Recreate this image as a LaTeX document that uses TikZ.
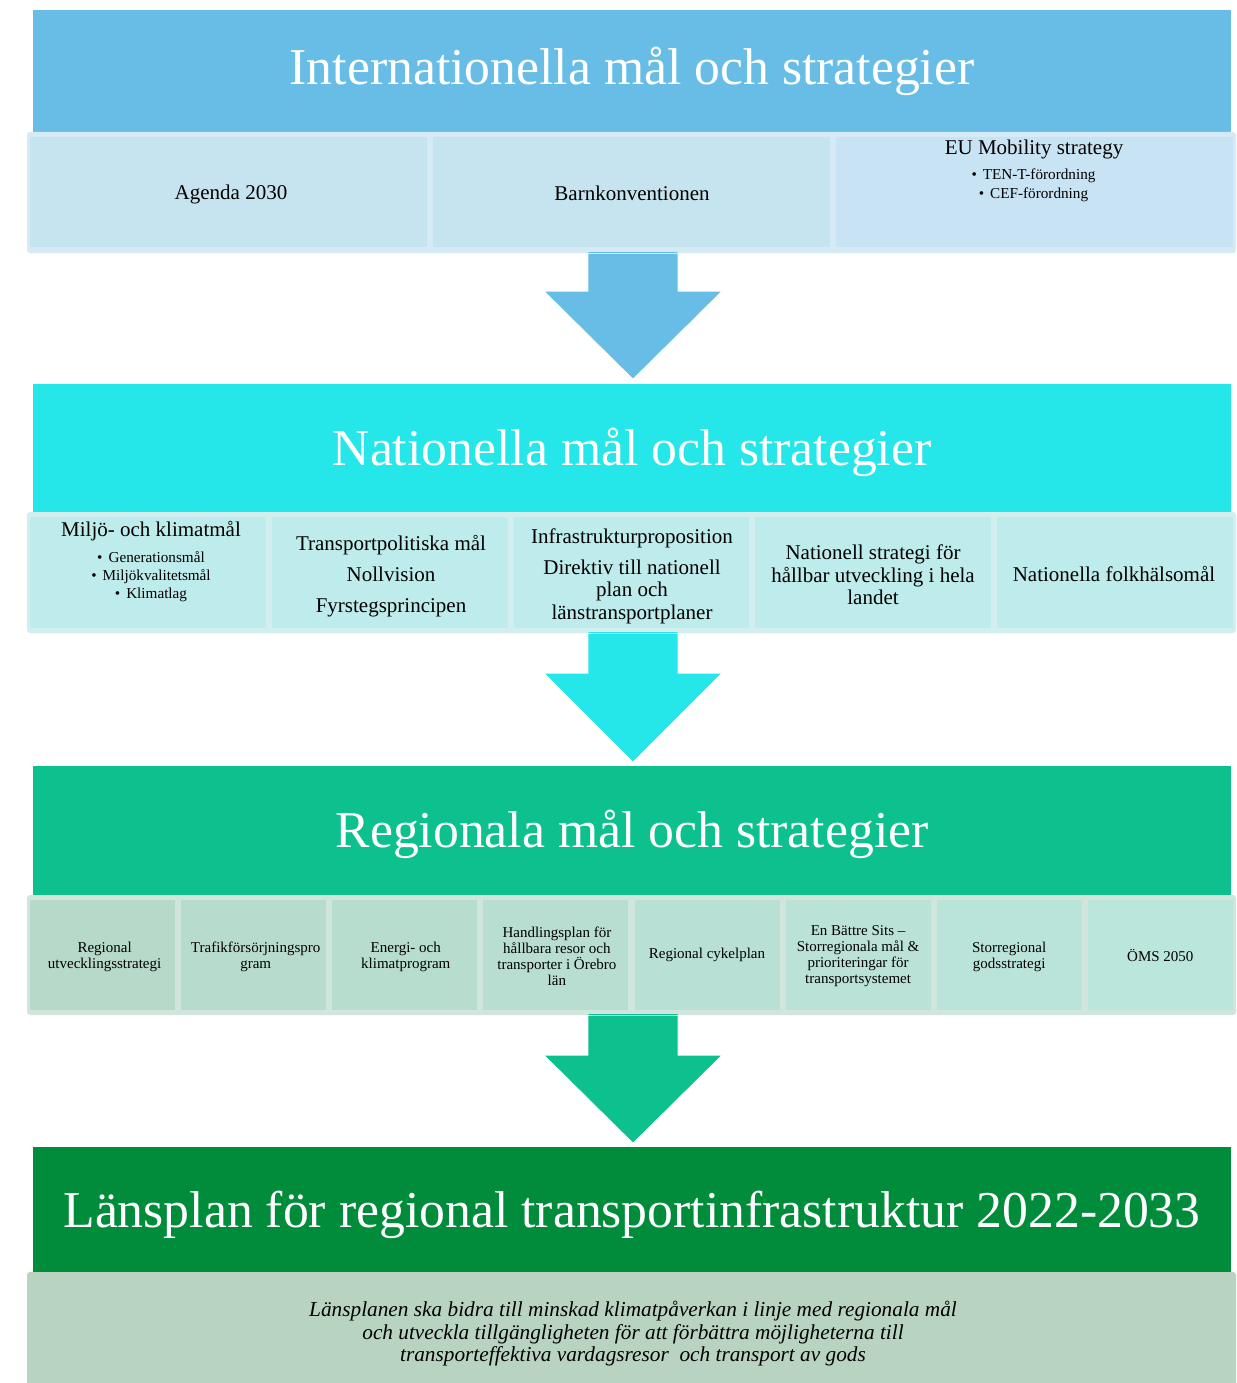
\documentclass[tikz,border=0pt]{standalone}
\usepackage{fontspec}
\setmainfont{Liberation Serif}
\usetikzlibrary{calc}
\definecolor{cOneBand}{HTML}{67BDE6}
\definecolor{cOneBox}{HTML}{C6E4F0}
\definecolor{cOneBoxB}{HTML}{C8E3F4}
\definecolor{cOnePan}{HTML}{D5EAF4}
\definecolor{cTwoBand}{HTML}{25E6E8}
\definecolor{cTwoBox}{HTML}{BEEBEB}
\definecolor{cTwoPan}{HTML}{D3EEEE}
\definecolor{cThrBand}{HTML}{0CC18D}
\definecolor{cThrL}{HTML}{B6D9C9}
\definecolor{cThrR}{HTML}{BBE6DC}
\definecolor{cThrPan}{HTML}{D0E6DD}
\definecolor{cFouBand}{HTML}{008C3A}
\definecolor{cFouPan}{HTML}{B8D4C1}
\newcommand{\blt}{•\hspace{6pt}}
\tikzset{
  band/.style={rectangle, inner sep=0pt, minimum width=1198pt},
  bandtext/.style={inner sep=0pt, text=white, font=\fontsize{51.7}{56}\selectfont},
  panel/.style={rectangle, rounded corners=3pt, inner sep=0pt, minimum width=1209pt},
  boxone/.style={rectangle, inner sep=0pt, minimum width=397pt, minimum height=110pt, fill=cOneBox},
  boxtwo/.style={rectangle, inner sep=0pt, minimum width=235.8pt, minimum height=111pt, fill=cTwoBox},
  boxthr/.style={rectangle, inner sep=0pt, minimum width=145pt, minimum height=110pt},
  txt/.style={inner sep=0pt, align=center},
  midtxt/.style={txt, font=\fontsize{21}{22.5}\selectfont},
  smalltxt/.style={txt, font=\fontsize{15.2}{18}\selectfont},
  thrtxt/.style={txt, font=\fontsize{15}{16}\selectfont},
  bigarrow/.style={draw=white, line width=0.8pt, line join=round},
}
\begin{document}
\begin{tikzpicture}[x=1pt,y=-1pt]
\useasboundingbox (0,0) rectangle (1236,1383);
\fill[white] (0,0) rectangle (1236,1383);

% ---------- Level 1 ----------
\node[band, fill=cOneBand, minimum height=122pt] (b1) at (632,71) {};
\node[bandtext] (b1t) at (632,71) {Internationella mål och strategier};
\node[panel, fill=cOnePan, minimum height=121pt] (p1) at (631.5,192.5) {};
\node[boxone] (a1) at (228.5,192) {};
\node[boxone] (a2) at (631.5,192) {};
\node[boxone, fill=cOneBoxB] (a3) at (1034.5,192) {};
\node[midtxt] (a1t) at (231,194) {Agenda 2030};
\node[midtxt] (a2t) at (632,193) {Barnkonventionen};
\node[midtxt, anchor=base] (a3t) at (1034,155) {EU Mobility strategy};
\node[smalltxt, anchor=base] (a3b) at (1033.5,198) {\blt TEN-T-förordning\\\blt CEF-förordning};

% arrow 1
\coordinate (s1) at ($(p1.south)+(1.5,0)$);
\fill[cOneBand, bigarrow] ($(s1)+(-45,-1)$) -- ($(s1)+(-45,38)$) -- ($(s1)+(-89,38)$)
  -- ($(s1)+(0,126)$) -- ($(s1)+(89,38)$) -- ($(s1)+(45,38)$) -- ($(s1)+(45,-1)$);
\draw[cOnePan, line width=1pt] ($(s1)+(-45,0)$) -- ($(s1)+(45,0)$);

% ---------- Level 2 ----------
\node[band, fill=cTwoBand, minimum height=128pt] (b2) at (632,448) {};
\node[bandtext] (b2t) at (632,452) {Nationella mål och strategier};
\node[panel, fill=cTwoPan, minimum height=121pt] (p2) at (631.5,572.5) {};
\node[boxtwo] (n1) at (147.9,572.5) {};
\node[boxtwo] (n2) at (389.7,572.5) {};
\node[boxtwo] (n3) at (631.5,572.5) {};
\node[boxtwo] (n4) at (873.3,572.5) {};
\node[boxtwo] (n5) at (1115.1,572.5) {};
\node[midtxt, anchor=base] (n1t) at (151,536) {Miljö- och klimatmål};
\node[smalltxt, anchor=base] (n1b) at (151,598) {\blt Generationsmål\\\blt Miljökvalitetsmål\\\blt Klimatlag};
\node[midtxt] (n2t) at (391,576) {Transportpolitiska mål\\[8.5pt]Nollvision\\[8.5pt]Fyrstegsprincipen};
\node[midtxt] (n3t) at (632,576) {Infrastrukturproposition\\[8.5pt]Direktiv till nationell\\plan och\\länstransportplaner};
\node[midtxt] (n4t) at (873,575) {Nationell strategi för\\hållbar utveckling i hela\\landet};
\node[midtxt] (n5t) at (1114,574) {Nationella folkhälsomål};

% arrow 2
\coordinate (s2) at ($(p2.south)+(1.5,0)$);
\fill[cTwoBand, bigarrow] ($(s2)+(-45,-1)$) -- ($(s2)+(-45,40)$) -- ($(s2)+(-89,40)$)
  -- ($(s2)+(0,129)$) -- ($(s2)+(89,40)$) -- ($(s2)+(45,40)$) -- ($(s2)+(45,-1)$);
\draw[cTwoPan, line width=1pt] ($(s2)+(-45,0)$) -- ($(s2)+(45,0)$);

% ---------- Level 3 ----------
\node[band, fill=cThrBand, minimum height=129pt] (b3) at (632,830.5) {};
\node[bandtext] (b3t) at (632,834.5) {Regionala mål och strategier};
\node[panel, fill=cThrPan, minimum height=120pt] (p3) at (631.5,955) {};
\node[boxthr, fill=cThrL] (r1) at (102.6,955) {};
\node[boxthr, fill=cThrR!14!cThrL] (r2) at (253.7,955) {};
\node[boxthr, fill=cThrR!28!cThrL] (r3) at (404.8,955) {};
\node[boxthr, fill=cThrR!42!cThrL] (r4) at (555.9,955) {};
\node[boxthr, fill=cThrR!57!cThrL] (r5) at (707,955) {};
\node[boxthr, fill=cThrR!71!cThrL] (r6) at (858.1,955) {};
\node[boxthr, fill=cThrR!85!cThrL] (r7) at (1009.2,955) {};
\node[boxthr, fill=cThrR] (r8) at (1160.3,955) {};
\node[thrtxt] (r1t) at (104.6,957) {Regional\\utvecklingsstrategi};
\node[thrtxt] (r2t) at (255.7,957) {Trafikförsörjningspro\\gram};
\node[thrtxt] (r3t) at (405.8,957) {Energi- och\\klimatprogram};
\node[thrtxt] (r4t) at (556.9,956) {Handlingsplan för\\hållbara resor och\\transporter i Örebro\\län};
\node[thrtxt] (r5t) at (707,955) {Regional cykelplan};
\node[thrtxt] (r6t) at (858.1,956) {En Bättre Sits –\\Storregionala mål \&\\prioriteringar för\\transportsystemet};
\node[thrtxt] (r7t) at (1009.2,957) {Storregional\\godsstrategi};
\node[thrtxt] (r8t) at (1160.3,955) {ÖMS 2050};

% arrow 3
\coordinate (s3) at ($(p3.south)+(1.5,0)$);
\fill[cThrBand, bigarrow] ($(s3)+(-45,-1)$) -- ($(s3)+(-45,40)$) -- ($(s3)+(-89,40)$)
  -- ($(s3)+(0,128)$) -- ($(s3)+(89,40)$) -- ($(s3)+(45,40)$) -- ($(s3)+(45,-1)$);
\draw[cThrPan, line width=1pt] ($(s3)+(-45,0)$) -- ($(s3)+(45,0)$);

% ---------- Level 4 ----------
\node[band, fill=cFouBand, minimum height=125pt] (b4) at (632,1209.5) {};
\node[bandtext] (b4t) at (632,1215) {Länsplan för regional transportinfrastruktur 2022-2033};
\node[panel, fill=cFouPan, minimum height=124pt] (p4) at (631.5,1334) {};
\node[txt, font=\fontsize{21.3}{22.5}\selectfont\itshape] (lt) at (633,1334)
  {Länsplanen ska bidra till minskad klimatpåverkan i linje med regionala mål\\
   och utveckla tillgängligheten för att förbättra möjligheterna till\\
   transporteffektiva vardagsresor \ och transport av gods};
\end{tikzpicture}
\end{document}
